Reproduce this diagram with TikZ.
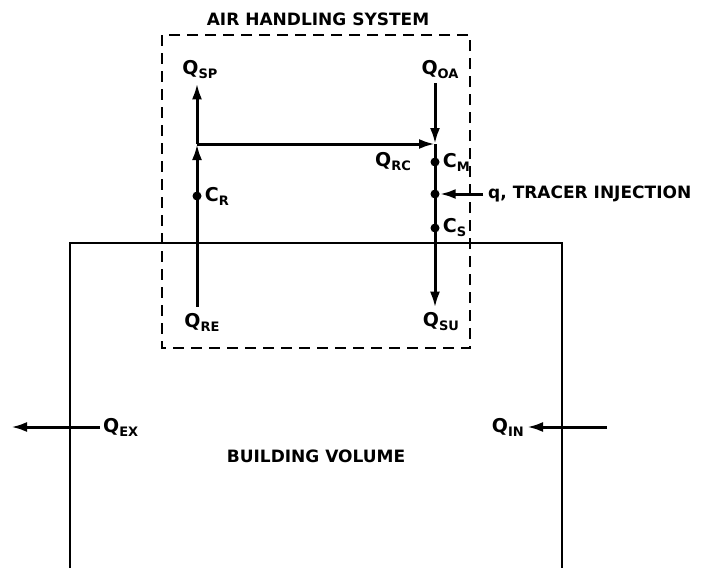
\documentclass[tikz,border=0pt]{standalone}
\usepackage{fontspec}
\setmainfont{DejaVu Sans}
\usetikzlibrary{arrows.meta}
\newcommand{\qsub}[2]{{\fontsize{19}{22}\selectfont #1}\raisebox{-4pt}{\fontsize{13}{15}\selectfont #2}}
\begin{document}
\begin{tikzpicture}[x=1pt, y=-1pt,
  every node/.style={inner sep=1pt, font=\fontsize{17}{20}\selectfont\bfseries},
  flow/.style={line width=3pt, -{Latex[length=16pt, width=10pt]}},
  dot/.style={circle, fill, inner sep=0pt, minimum size=9pt}]
  \useasboundingbox (0,0) rectangle (704,568);

  % Frames
  \draw[line width=2pt, dash pattern=on 11pt off 7pt] (162,35) rectangle (470,348);
  \draw[line width=2.6pt] (70,568) -- (70,243) -- (562,243) -- (562,568);

  % Nodes
  \node (ahs) at (318,19) {AIR HANDLING SYSTEM};
  \node (bv) at (316,456) {BUILDING VOLUME};
  \node (qsp) at (200,70) {\qsub{Q}{SP}};
  \node (qoa) at (440,70) {\qsub{Q}{OA}};
  \node (qre) at (202,322) {\qsub{Q}{RE}};
  \node (qsu) at (441,322) {\qsub{Q}{SU}};
  \node (qrc) at (393,162) {\qsub{Q}{RC}};
  \node[anchor=west] (qex) at (102,427) {\qsub{Q}{EX}};
  \node[anchor=east] (qin) at (525,427) {\qsub{Q}{IN}};
  \node[anchor=west] (tracer) at (487,194) {q, TRACER INJECTION};
  \coordinate (jl) at (197,144);
  \coordinate (jr) at (435,144);
  \coordinate (exout) at (11,427);
  \coordinate (inout) at (607,427);
  \node[dot] (cr) at (197,196) {};
  \node[dot] (cm) at (435,162) {};
  \node[dot] (inj) at (435,194) {};
  \node[dot] (cs) at (435,228) {};
  \node[anchor=west, xshift=2pt] at (cr.east) {\qsub{C}{R}};
  \node[anchor=west, xshift=2pt] at (cm.east) {\qsub{C}{M}};
  \node[anchor=west, xshift=2pt] at (cs.east) {\qsub{C}{S}};

  % Edges
  \draw[flow, shorten <=5pt] (qre.north -| jl) -- (jl);
  \draw[flow, shorten >=3pt] (jl) -- (qsp.south -| jl);
  \draw[flow] (jl) -- (jr);
  \draw[flow, shorten <=3pt] (qoa.south -| jr) -- (jr);
  \draw[flow, shorten >=4pt] (jr) -- (qsu.north -| jr);
  \draw[flow, shorten <=4pt] (tracer.west) -- (inj);
  \draw[flow, shorten <=2pt] (qex.west) -- (exout);
  \draw[flow] (inout) -- ([xshift=2pt]qin.east);
\end{tikzpicture}
\end{document}
